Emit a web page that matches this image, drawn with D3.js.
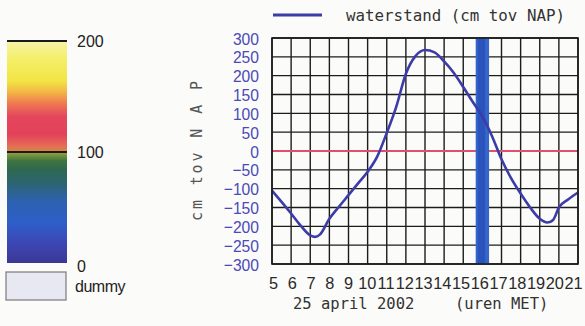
<!DOCTYPE html>
<html>
<head>
<meta charset="utf-8">
<script src="https://cdn.jsdelivr.net/npm/d3@7/dist/d3.min.js"></script>
<style>
  html, body { margin: 0; padding: 0; background: #fbfbf9; }
  svg { display: block; }
</style>
</head>
<body>
<svg id="chart" width="585" height="326"></svg>
<script>
// Water level (cm relative to NAP) through the day, hourly time axis
const hours      = [5, 5.5, 6, 6.5, 7, 7.25, 7.5, 8, 8.5, 9, 9.5, 10, 10.5, 11, 11.5, 12, 12.5, 13, 13.5, 14, 14.5, 15, 15.5, 16, 16.5, 17, 17.5, 18, 18.5, 19, 19.4, 19.7, 20, 20.5, 21];
const waterLevel = [-105, -135, -166, -198, -224, -228, -222, -180, -148, -117, -86, -55, -15, 48, 118, 205, 252, 268, 262, 238, 208, 170, 130, 92, 40, -22, -72, -113, -150, -180, -190, -183, -150, -128, -110];

const xTicks = [5, 6, 7, 8, 9, 10, 11, 12, 13, 14, 15, 16, 17, 18, 19, 20, 21];
const yTicks = [300, 250, 200, 150, 100, 50, 0, -50, -100, -150, -200, -250, -300];

// current moment marker
const currentHour = 16;
const markerHalfWidth = 0.35;

// colour legend
const legendTicks = [0, 100, 200];
const legendExtra = "dummy";

const seriesLabel = "waterstand (cm tov NAP)";
const yTitle = "cm tov N A P";
const xTitleDate = "25 april 2002";
const xTitleUnit = "(uren MET)";

// colour ramp of the legend bar, bottom (0) to top (200)
const rampStops = [
  [0.00, "#3a3894"], [0.08, "#3d45b2"], [0.18, "#2e5ec8"], [0.28, "#2d62b0"],
  [0.36, "#2d6470"], [0.42, "#2e6850"], [0.46, "#3f7440"], [0.49, "#80993c"],
  [0.50, "#d08a45"], [0.53, "#e66a55"], [0.58, "#e2425a"], [0.66, "#e4465e"],
  [0.72, "#ef7a50"], [0.77, "#f2b745"], [0.82, "#f1e444"], [0.92, "#f4ef6a"],
  [1.00, "#f7f4a8"]
];

const svg = d3.select("#chart");

// ---------- plot frame ----------
const plot = { left: 272, right: 578, top: 38, bottom: 264 };
const x = d3.scaleLinear().domain([5, 21]).range([plot.left, plot.right]);
const y = d3.scaleLinear().domain([-300, 300]).range([plot.bottom, plot.top]);
// hour labels are packed slightly tighter than the grid so "21" stays on the page
const xLabel = d3.scaleLinear().domain([5, 21]).range([plot.left + 1, plot.right - 5]);

const g = svg.append("g");

g.append("rect")
  .attr("x", plot.left).attr("y", plot.top)
  .attr("width", plot.right - plot.left).attr("height", plot.bottom - plot.top)
  .attr("fill", "#fbfbf9");

// grid
g.append("g").selectAll("line").data(xTicks).join("line")
  .attr("x1", d => x(d)).attr("x2", d => x(d))
  .attr("y1", plot.top).attr("y2", plot.bottom)
  .attr("stroke", "#1c1c1c").attr("stroke-width", 1.4);

g.append("g").selectAll("line").data(yTicks).join("line")
  .attr("x1", plot.left).attr("x2", plot.right)
  .attr("y1", d => y(d)).attr("y2", d => y(d))
  .attr("stroke", "#1c1c1c").attr("stroke-width", 1.4);

// zero reference line
g.append("line")
  .attr("x1", plot.left + 1).attr("x2", plot.right - 1)
  .attr("y1", y(0)).attr("y2", y(0))
  .attr("stroke", "#e0506a").attr("stroke-width", 1.8);

// current time band
g.append("rect")
  .attr("x", x(currentHour - markerHalfWidth))
  .attr("y", plot.top)
  .attr("width", x(currentHour + markerHalfWidth) - x(currentHour - markerHalfWidth))
  .attr("height", plot.bottom - plot.top)
  .attr("fill", "#3466cc");
g.append("rect")
  .attr("x", x(currentHour - markerHalfWidth) + 2)
  .attr("y", plot.top)
  .attr("width", x(currentHour + markerHalfWidth) - x(currentHour - markerHalfWidth) - 6)
  .attr("height", plot.bottom - plot.top)
  .attr("fill", "#2a54bc");

// water level curve
const line = d3.line()
  .x((d, i) => x(hours[i]))
  .y(d => y(d))
  .curve(d3.curveMonotoneX);

g.append("path")
  .datum(waterLevel)
  .attr("d", line)
  .attr("fill", "none")
  .attr("stroke", "#3b3ca8")
  .attr("stroke-width", 2.6)
  .attr("stroke-linejoin", "round");

// border
g.append("rect")
  .attr("x", plot.left).attr("y", plot.top)
  .attr("width", plot.right - plot.left).attr("height", plot.bottom - plot.top)
  .attr("fill", "none").attr("stroke", "#1c1c1c").attr("stroke-width", 1.6);

// y tick labels
const yAxis = d3.axisLeft(y).tickValues(yTicks).tickSize(0).tickPadding(13);
const yAxisG = svg.append("g").attr("transform", `translate(${plot.left},0)`).call(yAxis);
yAxisG.select(".domain").remove();
yAxisG.selectAll("text")
  .attr("font-family", "'Liberation Sans', Arial, sans-serif")
  .attr("font-size", 17)
  .attr("fill", "#4a4ab6")
  .attr("dy", "0.36em")
  .each(function () {
    const w = this.getComputedTextLength();
    d3.select(this).attr("textLength", w * 0.92).attr("lengthAdjust", "spacingAndGlyphs");
  });

// x tick labels
const xAxis = d3.axisBottom(xLabel).tickValues(xTicks).tickSize(0).tickPadding(0).tickFormat(d3.format("d"));
const xAxisG = svg.append("g").attr("transform", `translate(0,${plot.bottom})`).call(xAxis);
xAxisG.select(".domain").remove();
xAxisG.selectAll("text")
  .attr("y", 25)
  .attr("dy", 0)
  .attr("font-family", "'Liberation Sans', Arial, sans-serif")
  .attr("font-size", 17)
  .attr("fill", "#2a2a2a")
  .each(function () {
    const w = this.getComputedTextLength();
    d3.select(this).attr("textLength", w * 0.96).attr("lengthAdjust", "spacingAndGlyphs");
  });

// axis titles
svg.append("text")
  .attr("transform", `translate(202,${(plot.top + plot.bottom) / 2}) rotate(-90)`)
  .attr("text-anchor", "middle")
  .attr("font-family", "'DejaVu Sans Mono', monospace")
  .attr("font-size", 15)
  .attr("fill", "#555")
  .attr("textLength", 140)
  .attr("lengthAdjust", "spacing")
  .text(yTitle);

const xt = svg.append("text")
  .attr("y", 309)
  .attr("font-family", "'DejaVu Sans Mono', monospace")
  .attr("font-size", 15.5)
  .attr("fill", "#333");
xt.append("tspan").attr("x", 293).text(xTitleDate + " ");
xt.append("tspan").attr("x", 455).text(xTitleUnit);

// series legend
svg.append("line")
  .attr("x1", 273).attr("x2", 322).attr("y1", 15).attr("y2", 15)
  .attr("stroke", "#3b3ca8").attr("stroke-width", 3);
svg.append("text")
  .attr("x", 346).attr("y", 21)
  .attr("font-family", "'DejaVu Sans Mono', monospace")
  .attr("font-size", 16)
  .attr("fill", "#333")
  .attr("textLength", 219)
  .attr("lengthAdjust", "spacingAndGlyphs")
  .text(seriesLabel);

// ---------- colour legend ----------
const bar = { left: 7, right: 67 };
const ly = d3.scaleLinear().domain([0, 200]).range([263, 41]);

const defs = svg.append("defs");
const grad = defs.append("linearGradient")
  .attr("id", "ramp").attr("x1", 0).attr("x2", 0).attr("y1", 1).attr("y2", 0);
grad.selectAll("stop").data(rampStops).join("stop")
  .attr("offset", d => d[0]).attr("stop-color", d => d[1]);

svg.append("rect")
  .attr("x", bar.left).attr("y", ly(200))
  .attr("width", bar.right - bar.left).attr("height", ly(0) - ly(200))
  .attr("fill", "url(#ramp)");

svg.append("g").selectAll("line").data(legendTicks.filter(d => d > 0)).join("line")
  .attr("x1", bar.left).attr("x2", bar.right)
  .attr("y1", d => ly(d)).attr("y2", d => ly(d))
  .attr("stroke", "#1a1a1a").attr("stroke-width", 2);

svg.append("g").selectAll("text").data(legendTicks).join("text")
  .attr("x", 77).attr("y", d => ly(d))
  .attr("dy", d => d === 0 ? "0.55em" : "0.36em")
  .attr("font-family", "'Liberation Sans', Arial, sans-serif")
  .attr("font-size", 16)
  .attr("fill", "#222")
  .text(d => d);

svg.append("rect")
  .attr("x", 6).attr("y", 272).attr("width", 60).attr("height", 28)
  .attr("fill", "#e8e8f2").attr("stroke", "#7a7a7a").attr("stroke-width", 1.2);
svg.append("text")
  .attr("x", 75).attr("y", 292)
  .attr("font-family", "'Liberation Sans', Arial, sans-serif")
  .attr("font-size", 16)
  .attr("fill", "#222")
  .attr("letter-spacing", "-0.5")
  .text(legendExtra);
</script>
</body>
</html>
